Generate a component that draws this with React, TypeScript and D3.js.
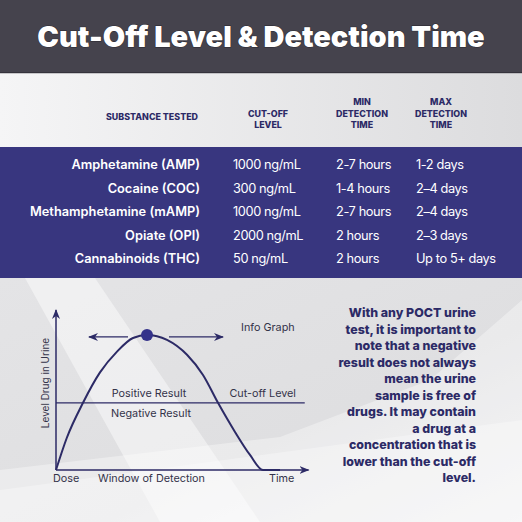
import { useEffect, useRef } from 'react';
import * as d3 from 'd3';

// table data
const substances = ['Amphetamine (AMP)', 'Cocaine (COC)', 'Methamphetamine (mAMP)', 'Opiate (OPI)', 'Cannabinoids (THC)'];
const cutOffLevels = ['1000 ng/mL', '300 ng/mL', '1000 ng/mL', '2000 ng/mL', '50 ng/mL'];
const minDetection = ['2-7 hours', '1-4 hours', '2-7 hours', '2 hours', '2 hours'];
const maxDetection = ['1-2 days', '2–4 days', '2–4 days', '2–3 days', 'Up to 5+ days'];
const headers = [['SUBSTANCE TESTED'], ['CUT-OFF', 'LEVEL'], ['MIN', 'DETECTION', 'TIME'], ['MAX', 'DETECTION', 'TIME']];

// info graph curve (time units vs level units)
const curveTime = [0, 4.3, 10.8, 17.6, 24.4, 30.8, 36.4, 44.4, 52.4, 58.8, 64.8, 71.6, 77.6, 82.8, 89.6];
const curveLevel = [0, 20, 42, 61, 74, 82.5, 84.4, 81.3, 72, 59.4, 42, 23.8, 9.4, 0, 0];
const cutOff = 42;
const peakTime = 36.4;

const noteLines = [
  'With any POCT urine',
  'test, it is important to',
  'note that a negative',
  'result does not always',
  'mean the urine',
  'sample is free of',
  'drugs. It may contain',
  'a drug at a',
  'concentration that is',
  'lower than the cut-off',
  'level.',
];

const W = 522;
const H = 522;
const navy = '#2c2a66';
const font = 'Inter, sans-serif';

export default function App() {
  const svgRef = useRef<SVGSVGElement>(null);

  useEffect(() => {
    if (!svgRef.current) return;
    const svg = d3.select(svgRef.current);
    svg.selectAll('*').remove();
    svg.attr('width', W).attr('height', H);

    const defs = svg.append('defs');
    const g1 = defs.append('linearGradient').attr('id', 'hdrGrad').attr('x1', 0).attr('x2', 1).attr('y1', 0).attr('y2', 0);
    g1.append('stop').attr('offset', 0).attr('stop-color', '#f5f5f6');
    g1.append('stop').attr('offset', 1).attr('stop-color', '#dcdcde');
    const g2 = defs.append('linearGradient').attr('id', 'botGrad').attr('x1', 0).attr('x2', 1).attr('y1', 0).attr('y2', 1);
    g2.append('stop').attr('offset', 0).attr('stop-color', '#e4e4e6');
    g2.append('stop').attr('offset', 0.6).attr('stop-color', '#dfdfe1');
    g2.append('stop').attr('offset', 1).attr('stop-color', '#eeeef0');

    defs.append('marker').attr('id', 'arrowHead')
      .attr('viewBox', '0 0 10 10').attr('refX', 9).attr('refY', 5)
      .attr('markerWidth', 10).attr('markerHeight', 10).attr('markerUnits', 'userSpaceOnUse')
      .attr('orient', 'auto')
      .append('path').attr('d', 'M0,1 L10,5 L0,9 L3,5 Z').attr('fill', navy);

    // top band
    svg.append('rect').attr('x', 0).attr('y', 0).attr('width', W).attr('height', 73).attr('fill', '#45434d');
    svg.append('rect').attr('x', 0).attr('y', 72).attr('width', W).attr('height', 1.5).attr('fill', '#35333c');
    svg.append('text')
      .attr('x', W / 2).attr('y', 47)
      .attr('text-anchor', 'middle')
      .attr('fill', 'white')
      .attr('font-family', font)
      .attr('font-weight', 900)
      .attr('font-size', 29)
      .style('paint-order', 'stroke')
      .attr('stroke', '#2a2830').attr('stroke-width', 1)
      .text('Cut-Off Level & Detection Time');

    // header band
    svg.append('rect').attr('x', 0).attr('y', 73.5).attr('width', W).attr('height', 74).attr('fill', 'url(#hdrGrad)');
    const colX = [152, 268, 362, 441];
    headers.forEach((lines, c) => {
      lines.forEach((line, i) => {
        const y = lines.length === 1 ? 120 : 128 - (lines.length - 1 - i) * 11.5;
        svg.append('text')
          .attr('x', colX[c]).attr('y', y)
          .attr('text-anchor', 'middle')
          .attr('fill', navy)
          .attr('font-family', font)
          .attr('font-weight', 800)
          .attr('font-size', 8.9)
          .text(line);
      });
    });

    // table band
    svg.append('rect').attr('x', 0).attr('y', 147).attr('width', W).attr('height', 131).attr('fill', '#38367f');
    const rowY = d3.scalePoint<string>().domain(substances).range([165, 259]);
    const rows = svg.append('g').attr('font-family', font).attr('font-size', 12.8).attr('fill', 'white');
    substances.forEach((s, i) => {
      const y = rowY(s)!;
      rows.append('text').attr('x', 200).attr('y', y).attr('dy', '0.35em').attr('text-anchor', 'end').attr('font-weight', 600).text(s);
      rows.append('text').attr('x', 233).attr('y', y).attr('dy', '0.35em').attr('letter-spacing', -0.4).text(cutOffLevels[i]);
      rows.append('text').attr('x', 336).attr('y', y).attr('dy', '0.35em').attr('letter-spacing', -0.4).text(minDetection[i]);
      rows.append('text').attr('x', 416).attr('y', y).attr('dy', '0.35em').attr('letter-spacing', -0.4).text(maxDetection[i]);
    });

    // bottom band with light diagonal shapes
    svg.append('rect').attr('x', 0).attr('y', 278).attr('width', W).attr('height', H - 278).attr('fill', 'url(#botGrad)');
    const shapes = [
      { pts: [[25, 278], [95, 278], [260, 522], [160, 522]], op: 0.45 },
      { pts: [[0, 470], [280, 437], [430, 380], [522, 300], [522, 522], [0, 522]], op: 0.35 },
      { pts: [[0, 490], [522, 420], [522, 522], [0, 522]], op: 0.3 },
    ];
    shapes.forEach(s => {
      svg.append('polygon').attr('points', s.pts.map(p => p.join(',')).join(' ')).attr('fill', 'white').attr('opacity', s.op);
    });

    // info graph
    const x = d3.scaleLinear().domain([0, 100]).range([56, 306]);
    const y = d3.scaleLinear().domain([0, 100]).range([470, 310]);
    const graph = svg.append('g');

    graph.append('line').attr('x1', x(0)).attr('y1', y(0)).attr('x2', x(0)).attr('y2', y(100))
      .attr('stroke', navy).attr('stroke-width', 1.5).attr('marker-end', 'url(#arrowHead)');
    graph.append('line').attr('x1', x(0)).attr('y1', y(0)).attr('x2', x(101)).attr('y2', y(0))
      .attr('stroke', navy).attr('stroke-width', 1.5).attr('marker-end', 'url(#arrowHead)');
    graph.append('line').attr('x1', x(0)).attr('y1', y(cutOff)).attr('x2', x(99.5)).attr('y2', y(cutOff))
      .attr('stroke', navy).attr('stroke-width', 1.2);

    const pts = curveTime.map((t, i) => [t, curveLevel[i]] as [number, number]);
    const line = d3.line<[number, number]>().x(d => x(d[0])).y(d => y(d[1])).curve(d3.curveMonotoneX);
    graph.append('path').attr('d', line(pts)).attr('fill', 'none').attr('stroke', navy).attr('stroke-width', 2);

    const peakLevel = d3.max(curveLevel)!;
    graph.append('line').attr('x1', x(28.8)).attr('y1', y(peakLevel) + 2).attr('x2', x(13.2)).attr('y2', y(peakLevel) + 2)
      .attr('stroke', navy).attr('stroke-width', 1.3).attr('marker-end', 'url(#arrowHead)');
    graph.append('line').attr('x1', x(45.2)).attr('y1', y(peakLevel) + 2).attr('x2', x(66.8)).attr('y2', y(peakLevel) + 2)
      .attr('stroke', navy).attr('stroke-width', 1.3).attr('marker-end', 'url(#arrowHead)');
    graph.append('circle').attr('cx', x(peakTime)).attr('cy', y(peakLevel)).attr('r', 6).attr('fill', '#34328a');

    const labels = graph.append('g').attr('font-family', font).attr('font-size', 10.8).attr('fill', '#34334a');
    labels.append('text').attr('x', 241).attr('y', 331).text('Info Graph');
    labels.append('text').attr('x', 149).attr('y', 397).attr('text-anchor', 'middle').text('Positive Result');
    labels.append('text').attr('x', 151).attr('y', 417).attr('text-anchor', 'middle').text('Negative Result');
    labels.append('text').attr('x', 296).attr('y', 397).attr('text-anchor', 'end').text('Cut-off Level');
    labels.append('text').attr('x', 53).attr('y', 482).text('Dose');
    labels.append('text').attr('x', 98).attr('y', 482).text('Window of Detection');
    labels.append('text').attr('x', 269).attr('y', 482).text('Time');
    labels.append('text').attr('transform', 'translate(49,383) rotate(-90)').attr('text-anchor', 'middle')
      .attr('font-size', 10).text('Level Drug in Urine');

    // note paragraph
    const note = svg.append('g').attr('font-family', font).attr('font-weight', 800).attr('font-size', 12.4).attr('fill', navy);
    noteLines.forEach((l, i) => {
      note.append('text').attr('x', 476).attr('y', 317 + i * 16.5).attr('text-anchor', 'end').text(l);
    });
  }, []);

  return (
    <div style={{ position: 'absolute', left: 0, top: 0 }}>
      <svg ref={svgRef} style={{ display: 'block' }}></svg>
    </div>
  );
}
